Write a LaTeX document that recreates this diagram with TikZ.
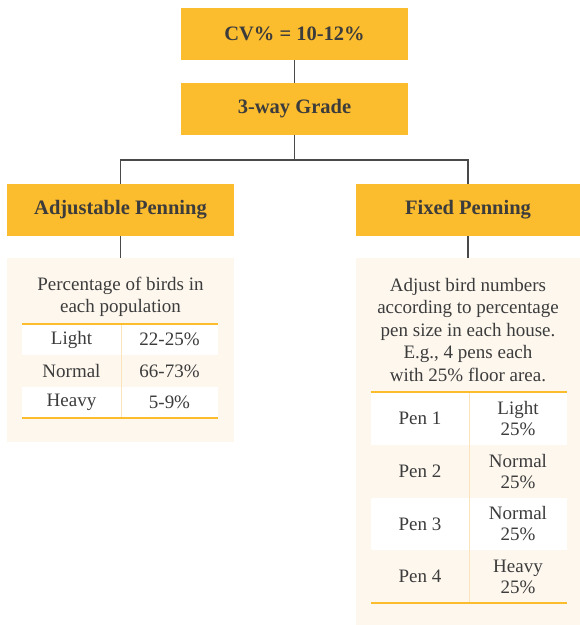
\documentclass[tikz,border=0pt]{standalone}
\usepackage{fontspec}
\setmainfont{Liberation Serif}
\definecolor{gold}{HTML}{FBBC2E}
\definecolor{cream}{HTML}{FDF7EE}
\definecolor{txt}{HTML}{3C3C3C}
\definecolor{divline}{HTML}{FBE3BC}
\definecolor{conncol}{HTML}{4A4A4A}
\begin{document}
\begin{tikzpicture}[x=1pt,y=-1pt,
  hdr/.style={fill=gold, text=txt, inner sep=0pt, font=\bfseries\fontsize{20.5}{22}\selectfont},
  panel/.style={fill=cream, inner sep=0pt},
  body/.style={text=txt, align=center, inner sep=0pt, font=\fontsize{19}{22.5}\selectfont},
  cellw/.style={fill=white, text=txt, inner sep=0pt, align=center, font=\fontsize{19}{21}\selectfont},
  cellc/.style={cellw, fill=cream},
  conn/.style={draw=conncol, line width=1.4pt},
  rule/.style={draw=gold, line width=2pt},
  divider/.style={draw=divline, line width=1pt}]
\useasboundingbox (0,0) rectangle (580,625);
% header boxes
\node[hdr, minimum width=227pt, minimum height=52pt] (cv) at (294.5,34) {CV\% = 10-12\%};
\node[hdr, minimum width=227pt, minimum height=52pt] (grade) at (294.5,109) {3-way Grade};
\node[hdr, minimum width=227pt, minimum height=52pt] (adj) at (120.5,210) {Adjustable Penning};
\node[hdr, minimum width=224pt, minimum height=52pt] (fixed) at (468,210) {Fixed Penning};
% panels
\node[panel, minimum width=227pt, minimum height=184pt] (lp) at (120.5,350) {};
\node[panel, minimum width=224pt, minimum height=367pt] (rp) at (468,441.5) {};
% connectors
\coordinate (split) at (294.5,160);
\draw[conn] (cv.south) -- (grade.north);
\draw[conn] (grade.south) -- (split);
\draw[conn] (split) -| (adj.north);
\draw[conn] (split) -| (fixed.north);
\draw[conn] (adj.south) -- (lp.north);
\draw[conn] (fixed.south) -- (rp.north);
% left panel text
\node[body] (ltext) at (120.5,297) {Percentage of birds in\\each population};
% left table
\node[cellw, minimum width=99pt, minimum height=31.3pt] (l11) at (71.5,339.6) {Light};
\node[cellw, minimum width=97pt, minimum height=31.3pt] (l12) at (169.5,339.6) {22-25\%};
\node[cellc, minimum width=99pt, minimum height=31.3pt] (l21) at (71.5,370.9) {Normal};
\node[cellc, minimum width=97pt, minimum height=31.3pt] (l22) at (169.5,370.9) {66-73\%};
\node[cellw, minimum width=99pt, minimum height=31.3pt] (l31) at (71.5,402.2) {Heavy};
\node[cellw, minimum width=97pt, minimum height=31.3pt] (l32) at (169.5,402.2) {5-9\%};
\draw[divider] (l11.north east) -- (l31.south east);
\draw[rule] (l11.north west) -- (l12.north east);
\draw[rule] (l31.south west) -- (l32.south east);
% right panel text
\node[body] (rtext) at (468,330) {Adjust bird numbers\\according to percentage\\pen size in each house.\\E.g., 4 pens each\\with 25\% floor area.};
% right table
\node[cellw, minimum width=98pt, minimum height=52.75pt] (r11) at (420,418.4) {Pen 1};
\node[cellw, minimum width=98pt, minimum height=52.75pt] (r12) at (518,418.4) {Light\\25\%};
\node[cellc, minimum width=98pt, minimum height=52.75pt] (r21) at (420,471.1) {Pen 2};
\node[cellc, minimum width=98pt, minimum height=52.75pt] (r22) at (518,471.1) {Normal\\25\%};
\node[cellw, minimum width=98pt, minimum height=52.75pt] (r31) at (420,523.9) {Pen 3};
\node[cellw, minimum width=98pt, minimum height=52.75pt] (r32) at (518,523.9) {Normal\\25\%};
\node[cellc, minimum width=98pt, minimum height=52.75pt] (r41) at (420,576.6) {Pen 4};
\node[cellc, minimum width=98pt, minimum height=52.75pt] (r42) at (518,576.6) {Heavy\\25\%};
\draw[divider] (r11.north east) -- (r41.south east);
\draw[rule] (r11.north west) -- (r12.north east);
\draw[rule] (r41.south west) -- (r42.south east);
\end{tikzpicture}
\end{document}
